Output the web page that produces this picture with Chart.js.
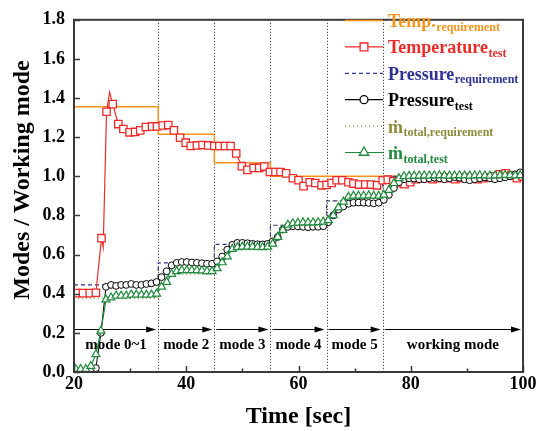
<!DOCTYPE html>
<html><head><meta charset="utf-8">
<script src="https://cdn.jsdelivr.net/npm/chart.js@4.4.1/dist/chart.umd.min.js"></script>
<style>html,body{margin:0;padding:0;background:#fff;}canvas{display:block;}</style>
</head><body>
<canvas id="c" width="548" height="431"></canvas>
<script>
// ---------------- data ----------------
const tempTime = [20.5,21.6,22.8,23.9,24.9,25.8,26.9,27.9,28.8,29.9,30.9,31.8,32.8,33.9,34.8,35.8,36.8,37.8,38.9,39.9,40.8,41.9,42.9,43.9,45.0,45.9,46.9,47.9,48.9,49.9,50.9,52.0,53.0,53.9,54.9,55.9,56.8,57.8,59.0,60.0,60.9,62.0,63.0,64.1,65.0,65.9,66.8,67.8,68.9,69.8,70.8,71.9,72.9,74.0,75.0,75.9,76.9,77.9,78.9,79.9,80.9,81.9,82.9,83.9,84.9,85.9,86.9,87.9,88.9,89.9,90.9,91.9,92.9,93.9,94.9,95.9,96.9,97.9,98.9,99.9];
const temperatureTest = [0.403,0.403,0.403,0.405,0.684,1.33,1.369,1.267,1.242,1.225,1.227,1.235,1.252,1.255,1.255,1.26,1.262,1.235,1.197,1.172,1.155,1.158,1.16,1.158,1.155,1.155,1.155,1.155,1.117,1.052,1.033,1.043,1.043,1.05,1.022,1.022,1.022,1.015,0.99,0.98,0.95,0.97,0.966,0.954,0.956,0.966,0.98,0.98,0.97,0.963,0.958,0.958,0.958,0.954,0.98,0.983,0.975,0.965,0.96,0.97,0.985,0.99,0.99,0.985,0.99,0.995,0.99,0.985,0.99,0.995,0.99,0.985,0.99,0.995,1.0,1.01,1.015,1.005,0.99,1.0];
// line-only points of the temperature trace (undershoot and overshoot)
const tempSpikeTime = [25.2, 26.35];
const tempSpikeValue = [0.637, 1.43];

const flowTime = [20.3,21.2,22.1,23.0,23.9,24.8,25.7,26.6,27.5,28.4,29.3,30.2,31.1,32.0,32.9,33.8,34.7,35.6,36.5,37.4,38.3,39.2,40.1,41.0,41.9,42.8,43.7,44.6,45.5,46.4,47.3,48.2,49.1,50.0,50.9,51.8,52.7,53.6,54.5,55.4,56.3,57.2,58.1,59.0,59.9,60.8,61.7,62.6,63.5,64.4,65.3,66.2,67.1,68.0,68.9,69.8,70.7,71.6,72.5,73.4,74.3,75.2,76.1,77.0,77.9,78.8,79.7,80.6,81.5,82.4,83.3,84.2,85.1,86.0,86.9,87.8,88.7,89.6,90.5,91.4,92.3,93.2,94.1,95.0,95.9,96.8,97.7,98.6,99.5];
const pressureTest = [0.0,0.0,0.0,0.005,0.02,0.2,0.435,0.445,0.44,0.445,0.445,0.45,0.445,0.445,0.45,0.453,0.46,0.485,0.515,0.545,0.558,0.562,0.562,0.56,0.558,0.556,0.553,0.553,0.565,0.59,0.625,0.65,0.66,0.66,0.658,0.655,0.653,0.652,0.655,0.668,0.69,0.728,0.742,0.745,0.744,0.742,0.74,0.742,0.742,0.745,0.765,0.8,0.83,0.846,0.86,0.865,0.866,0.865,0.864,0.862,0.865,0.88,0.905,0.94,0.97,0.985,0.99,0.988,0.985,0.985,0.99,0.993,0.99,0.985,0.99,0.995,0.993,0.985,0.98,0.985,0.99,0.995,0.99,0.985,0.99,0.995,1.0,1.01,1.02];
const mdotTest = [0.015,0.015,0.015,0.03,0.09,0.21,0.37,0.38,0.39,0.39,0.39,0.395,0.395,0.395,0.395,0.395,0.40,0.435,0.46,0.50,0.515,0.52,0.52,0.52,0.52,0.518,0.515,0.515,0.53,0.56,0.59,0.628,0.637,0.64,0.64,0.64,0.638,0.637,0.64,0.655,0.69,0.725,0.752,0.76,0.762,0.764,0.764,0.764,0.765,0.768,0.775,0.80,0.84,0.87,0.895,0.90,0.90,0.90,0.902,0.90,0.90,0.905,0.93,0.965,0.99,1.0,1.002,1.003,1.003,1.004,1.003,1.004,1.005,1.004,1.003,1.004,1.005,1.004,1.003,1.004,1.005,1.004,1.003,1.004,1.005,1.006,1.005,1.004,1.005];

// requirement step levels (value holds from each breakpoint to the next)
const reqTime = [20,35,45,55,65,75,100];
const tempReq = [1.355,1.215,1.07,1.0,1.0,1.0,1.0];
const pressureReq = [0.445,0.558,0.652,0.75,0.875,1.0,1.0];
const mdotReq = [0.378,0.50,0.625,0.75,0.875,1.0,1.0];

const modeBounds = [20,35,45,55,65,75,100];
const modeLabels = ['mode 0~1','mode 2','mode 3','mode 4','mode 5','working mode'];
const modeArrowLevel = 0.222;
const modeLabelLevel = 0.119;

const xMin = 20, xMax = 100, xStep = 20;
const yMin = 0, yMax = 1.8, yStep = 0.2;

// ---------------- styles ----------------
const C = {
  tempReq: '#F7941D', temp: '#EE2A2A', presReq: '#2E3192', pres: '#000000',
  mdotReq: '#8E8A3A', mdot: '#1F8A3C', frame: '#3a3a3a'
};
const FONT = "'Liberation Serif','Times New Roman',serif";
Chart.defaults.font.family = FONT;
Chart.defaults.font.weight = 'bold';
Chart.defaults.color = '#000';

const xy = (ts, vs) => ts.map((t, i) => ({x: t, y: vs[i]}));
const tempPoints = tempTime.map((t, i) => ({x: t, y: temperatureTest[i], m: true}))
  .concat(tempSpikeTime.map((t, i) => ({x: t, y: tempSpikeValue[i], m: false})))
  .sort((a, b) => a.x - b.x);

function drawMarker(ctx, style, x, y, r, stroke, lw) {
  ctx.save();
  ctx.beginPath();
  if (style === 'rect') { const s = r * Math.SQRT1_2; ctx.rect(x - s, y - s, 2 * s, 2 * s); }
  else if (style === 'circle') { ctx.arc(x, y, r, 0, Math.PI * 2); }
  else if (style === 'triangle') {
    ctx.moveTo(x, y - r);
    ctx.lineTo(x + r * 0.866, y + r * 0.5);
    ctx.lineTo(x - r * 0.866, y + r * 0.5);
    ctx.closePath();
  }
  ctx.fillStyle = '#fff'; ctx.fill();
  ctx.strokeStyle = stroke; ctx.lineWidth = lw; ctx.stroke();
  ctx.restore();
}

const decor = {
  id: 'decor',
  beforeDatasetsDraw(chart) {
    const {ctx, chartArea: a, scales: {x, y}} = chart;
    ctx.save();
    // dotted mode boundaries
    ctx.strokeStyle = '#222'; ctx.lineWidth = 1; ctx.setLineDash([1, 2]);
    modeBounds.slice(1, -1).forEach(b => {
      const px = Math.round(x.getPixelForValue(b)) + 0.5;
      ctx.beginPath(); ctx.moveTo(px, a.top); ctx.lineTo(px, a.bottom); ctx.stroke();
    });
    ctx.setLineDash([]);
    // arrows
    const ay = Math.round(y.getPixelForValue(modeArrowLevel)) + 0.5;
    ctx.strokeStyle = '#000'; ctx.fillStyle = '#000'; ctx.lineWidth = 1;
    for (let i = 0; i < modeBounds.length - 1; i++) {
      const x0 = x.getPixelForValue(modeBounds[i]) + (i ? 2 : 0);
      const x1 = x.getPixelForValue(modeBounds[i + 1]) - 2;
      ctx.beginPath(); ctx.moveTo(x0, ay); ctx.lineTo(x1 - 6, ay); ctx.stroke();
      ctx.beginPath(); ctx.moveTo(x1, ay); ctx.lineTo(x1 - 10, ay - 3); ctx.lineTo(x1 - 10, ay + 3); ctx.closePath(); ctx.fill();
    }
    // labels
    ctx.font = 'bold 15px ' + FONT; ctx.textAlign = 'center'; ctx.textBaseline = 'alphabetic';
    const ly = y.getPixelForValue(modeLabelLevel);
    modeLabels.forEach((s, i) => {
      const cx = (x.getPixelForValue(modeBounds[i]) + x.getPixelForValue(modeBounds[i + 1])) / 2;
      ctx.fillText(s, cx, ly);
    });
    ctx.restore();
  },
  afterDraw(chart) {
    const {ctx, chartArea: a, scales: {x, y}} = chart;
    ctx.save();
    // inward ticks
    ctx.strokeStyle = C.frame; ctx.lineWidth = 1.5;
    y.ticks.forEach(t => {
      const py = Math.round(y.getPixelForValue(t.value)) + 0.5;
      ctx.beginPath(); ctx.moveTo(a.left, py); ctx.lineTo(a.left + 6, py); ctx.stroke();
    });
    const xt = x.ticks.map(t => t.value);
    xt.forEach((v, i) => {
      const px = Math.round(x.getPixelForValue(v)) + 0.5;
      ctx.beginPath(); ctx.moveTo(px, a.bottom); ctx.lineTo(px, a.bottom - 6); ctx.stroke();
      if (i < xt.length - 1) {
        const pm = Math.round(x.getPixelForValue((v + xt[i + 1]) / 2)) + 0.5;
        ctx.beginPath(); ctx.moveTo(pm, a.bottom); ctx.lineTo(pm, a.bottom - 3.5); ctx.stroke();
      }
    });
    // frame
    ctx.lineWidth = 2; ctx.strokeStyle = C.frame;
    ctx.strokeRect(a.left, a.top, a.right - a.left, a.bottom - a.top);
    // axis titles
    ctx.fillStyle = '#000';
    ctx.font = 'bold 24px ' + FONT; ctx.textAlign = 'center'; ctx.textBaseline = 'alphabetic';
    ctx.fillText('Time [sec]', (a.left + a.right) / 2, 423);
    ctx.save(); ctx.translate(29, 180); ctx.rotate(-Math.PI / 2);
    ctx.fillText('Modes / Working mode', 0, 0); ctx.restore();
    // legend
    const rows = [
      {main: 'Temp.', sub: 'requirement', color: C.tempReq, lc: C.tempReq, dash: [], lw: 1.5},
      {main: 'Temperature', sub: 'test', color: C.temp, lc: C.temp, dash: [], lw: 1.2, mk: 'rect', r: 5.5},
      {main: 'Pressure', sub: 'requirement', color: C.presReq, lc: C.presReq, dash: [4, 3], lw: 1.2},
      {main: 'Pressure', sub: 'test', color: C.pres, lc: C.pres, dash: [], lw: 1.2, mk: 'circle', r: 4},
      {main: '\u1E41', sub: 'total,requirement', color: C.mdotReq, lc: C.mdotReq, dash: [1, 3], lw: 1.2},
      {main: '\u1E41', sub: 'total,test', color: C.mdot, lc: C.mdot, dash: [], lw: 1.2, mk: 'triangle', r: 5.5}
    ];
    const lx0 = 345, lx1 = 383, tx = 388, by0 = 27, dy = 26.4;
    ctx.textAlign = 'left';
    rows.forEach((r, i) => {
      const by = by0 + i * dy, ly = by - 6.5;
      ctx.save();
      ctx.strokeStyle = r.lc; ctx.lineWidth = r.lw; ctx.setLineDash(r.dash);
      ctx.beginPath(); ctx.moveTo(lx0, ly); ctx.lineTo(lx1, ly); ctx.stroke();
      ctx.restore();
      if (r.mk) drawMarker(ctx, r.mk, (lx0 + lx1) / 2, ly, r.r, r.lc, 1.3);
      ctx.fillStyle = r.color;
      ctx.font = 'bold 18px ' + FONT;
      ctx.fillText(r.main, tx, by);
      const w = ctx.measureText(r.main).width;
      ctx.font = 'bold 12px ' + FONT;
      ctx.fillText(r.sub, tx + w + 0.5, by + 3.5);
    });
    ctx.restore();
  }
};

new Chart(document.getElementById('c'), {
  type: 'line',
  data: {
    datasets: [
      {label: 'mdot total,test', data: xy(flowTime, mdotTest), borderColor: C.mdot, borderWidth: 1.2,
       pointStyle: 'triangle', pointRadius: 4.6, pointBorderWidth: 1.2, pointBackgroundColor: '#fff', pointBorderColor: C.mdot, tension: 0},
      {label: 'Pressure test', data: xy(flowTime, pressureTest), borderColor: C.pres, borderWidth: 1,
       pointStyle: 'circle', pointRadius: 3.4, pointBorderWidth: 1, pointBackgroundColor: '#fff', pointBorderColor: C.pres, tension: 0},
      {label: 'Temperature test', data: tempPoints, borderColor: C.temp, borderWidth: 1.2,
       pointStyle: 'rect', pointRadius: c => (c.raw && c.raw.m) ? 5.2 : 0, pointBorderWidth: 1.3,
       pointBackgroundColor: '#fff', pointBorderColor: C.temp, tension: 0},
      {label: 'mdot total,requirement', data: xy(reqTime, mdotReq), borderColor: C.mdotReq, borderWidth: 1.2,
       borderDash: [1, 3], stepped: 'before', pointRadius: 0},
      {label: 'Pressure requirement', data: xy(reqTime, pressureReq), borderColor: C.presReq, borderWidth: 1.2,
       borderDash: [4, 3], stepped: 'before', pointRadius: 0},
      {label: 'Temp. requirement', data: xy(reqTime, tempReq), borderColor: C.tempReq, borderWidth: 1.5,
       stepped: 'before', pointRadius: 0}
    ]
  },
  options: {
    responsive: false, animation: false, devicePixelRatio: 1,
    layout: {padding: {top: 13, right: 25, left: 0, bottom: 0}},
    plugins: {legend: {display: false}, tooltip: {enabled: false}},
    scales: {
      x: {type: 'linear', min: xMin, max: xMax,
          grid: {display: false, drawTicks: false}, border: {display: false},
          ticks: {stepSize: xStep, maxRotation: 0, autoSkip: false, padding: 2, color: '#000',
                  font: {size: 18, weight: 'bold', family: FONT}},
          afterFit: s => { s.height = 59; }},
      y: {type: 'linear', min: yMin, max: yMax,
          grid: {display: false, drawTicks: false}, border: {display: false},
          ticks: {stepSize: yStep, padding: 9, color: '#000', callback: v => Number(v).toFixed(1),
                  font: {size: 18, weight: 'bold', family: FONT}},
          afterFit: s => { s.width = 74; }}
    }
  },
  plugins: [decor]
});
</script>
</body></html>
